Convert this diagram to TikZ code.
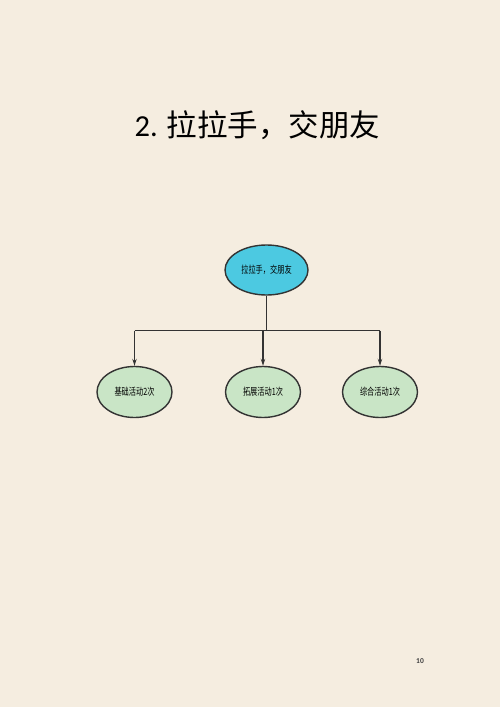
\documentclass[tikz,border=0pt]{standalone}
\usepackage{fontspec}
\setmainfont{Carlito}
\newfontfamily\cjk{Noto Sans CJK SC}
\usetikzlibrary{shapes.geometric,arrows.meta}
\definecolor{bgc}{HTML}{F5EDE0}
\definecolor{topc}{HTML}{4CC9E1}
\definecolor{subc}{HTML}{C9E5C6}
\definecolor{linec}{HTML}{333333}
\newcommand{\narrow}[1]{\scalebox{0.72}[1]{#1}}
\tikzset{
  topnode/.style={ellipse,draw=linec,line width=1.4pt,fill=topc,minimum width=83pt,minimum height=50pt,inner sep=0pt,font=\cjk\fontsize{10}{10}\selectfont},
  subnode/.style={ellipse,draw=linec,line width=1.4pt,fill=subc,minimum width=75pt,minimum height=51pt,inner sep=0pt,font=\cjk\fontsize{10}{10}\selectfont},
  conn/.style={draw=linec,line width=1.1pt},
  arr/.style={conn,-{Stealth[length=7pt,width=4.5pt]}}
}
\begin{document}
\begin{tikzpicture}[x=1pt,y=-1pt]
\fill[bgc] (0,0) rectangle (500,707);
\useasboundingbox (0,0) rectangle (500,707);
\node (title) at (257.5,125) {\fontsize{30.5}{30.5}\selectfont 2. {\cjk 拉拉手，交朋友}};
\node[topnode] (top) at (266.5,270) {\narrow{拉拉手，交朋友}};
\node[subnode] (a) at (134.5,392) {\narrow{基础活动2次}};
\node[subnode] (b) at (263,392) {\narrow{拓展活动1次}};
\node[subnode] (c) at (380,392) {\narrow{综合活动1次}};
\coordinate (j) at (266.5,330.5);
\coordinate (ja) at (134.5,330.5);
\coordinate (jb) at (263,330.5);
\coordinate (jc) at (380,330.5);
\draw[conn] (top.south) -- (j);
\draw[conn] (ja) -- (jc);
\draw[arr] (ja) -- (a.north);
\draw[arr] (jb) -- (b.north);
\draw[arr] (jc) -- (c.north);
\node[font=\fontsize{7.5}{7.5}\selectfont\bfseries,text=black!75] (pg) at (420,661) {10};
\end{tikzpicture}
\end{document}
